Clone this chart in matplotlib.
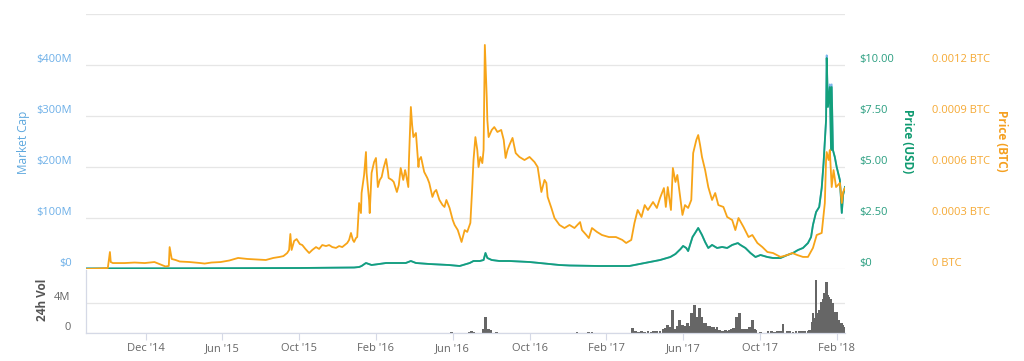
import numpy as np
import pandas as pd
import matplotlib
matplotlib.use('Agg')
import matplotlib.pyplot as plt
import matplotlib.dates as mdates

plt.rcParams['font.family'] = ['Open Sans', 'DejaVu Sans']

# ---------------- data ----------------
tick_dates = ['2014-12-01', '2015-06-01', '2015-10-01', '2016-02-01', '2016-06-01',
              '2016-10-01', '2017-02-01', '2017-06-01', '2017-10-01', '2018-02-01']
tick_labels = ["Dec '14", "Jun '15", "Oct '15", "Feb '16", "Jun '16",
               "Oct '16", "Feb '17", "Jun '17", "Oct '17", "Feb '18"]

btc_dates = [
    '2014-07-12', '2014-08-14', '2014-09-02', '2014-09-07', '2014-09-09', '2014-09-14', '2014-10-12',
    '2014-11-05', '2014-11-29', '2014-12-22', '2015-01-03', '2015-01-17', '2015-01-25', '2015-01-27',
    '2015-02-01', '2015-02-10', '2015-02-20', '2015-03-15', '2015-04-10', '2015-04-20', '2015-05-06',
    '2015-05-28', '2015-06-12', '2015-06-26', '2015-07-11', '2015-07-25', '2015-08-09', '2015-08-21',
    '2015-08-31', '2015-09-06', '2015-09-12', '2015-09-15', '2015-09-17', '2015-09-19', '2015-09-23',
    '2015-09-27', '2015-10-02', '2015-10-06', '2015-10-11', '2015-10-17', '2015-10-22', '2015-10-28',
    '2015-11-02', '2015-11-07', '2015-11-13', '2015-11-18', '2015-11-23', '2015-11-29', '2015-12-04',
    '2015-12-09', '2015-12-13', '2015-12-17', '2015-12-20', '2015-12-23', '2015-12-26', '2015-12-28',
    '2015-12-31', '2016-01-02', '2016-01-05', '2016-01-08', '2016-01-09', '2016-01-13', '2016-01-16',
    '2016-01-17', '2016-01-21', '2016-01-22', '2016-01-25', '2016-01-29', '2016-02-01', '2016-02-04',
    '2016-02-07', '2016-02-10', '2016-02-13', '2016-02-17', '2016-02-20', '2016-02-21', '2016-02-26',
    '2016-02-29', '2016-03-05', '2016-03-08', '2016-03-11', '2016-03-15', '2016-03-18', '2016-03-19',
    '2016-03-23', '2016-03-24', '2016-03-27', '2016-03-29', '2016-03-31', '2016-04-04', '2016-04-08',
    '2016-04-09', '2016-04-12', '2016-04-17', '2016-04-22', '2016-04-25', '2016-04-30', '2016-05-03',
    '2016-05-06', '2016-05-11', '2016-05-16', '2016-05-19', '2016-05-22', '2016-05-27', '2016-06-01',
    '2016-06-04', '2016-06-09', '2016-06-12', '2016-06-15', '2016-06-20', '2016-06-24', '2016-06-29',
    '2016-07-02', '2016-07-04', '2016-07-07', '2016-07-10', '2016-07-12', '2016-07-15', '2016-07-18',
    '2016-07-20', '2016-07-22', '2016-07-25', '2016-07-26', '2016-07-28', '2016-08-02', '2016-08-06',
    '2016-08-11', '2016-08-17', '2016-08-21', '2016-08-24', '2016-08-27', '2016-08-30', '2016-09-04',
    '2016-09-09', '2016-09-15', '2016-09-23', '2016-10-01', '2016-10-09', '2016-10-14', '2016-10-20',
    '2016-10-25', '2016-10-28', '2016-10-30', '2016-11-05', '2016-11-10', '2016-11-18', '2016-11-26',
    '2016-12-04', '2016-12-12', '2016-12-21', '2016-12-24', '2016-12-31', '2017-01-04', '2017-01-09',
    '2017-01-17', '2017-01-25', '2017-02-05', '2017-02-16', '2017-02-26', '2017-03-04', '2017-03-12',
    '2017-03-17', '2017-03-22', '2017-03-28', '2017-04-02', '2017-04-07', '2017-04-15', '2017-04-21',
    '2017-04-26', '2017-05-02', '2017-05-05', '2017-05-08', '2017-05-13', '2017-05-16', '2017-05-20',
    '2017-05-23', '2017-05-26', '2017-05-31', '2017-06-04', '2017-06-09', '2017-06-14', '2017-06-17',
    '2017-06-22', '2017-06-25', '2017-06-28', '2017-07-01', '2017-07-06', '2017-07-11', '2017-07-17',
    '2017-07-22', '2017-07-27', '2017-08-04', '2017-08-10', '2017-08-18', '2017-08-23', '2017-08-28',
    '2017-09-05', '2017-09-13', '2017-09-19', '2017-09-27', '2017-10-05', '2017-10-13', '2017-10-22',
    '2017-11-03', '2017-11-14', '2017-11-22', '2017-11-30', '2017-12-09', '2017-12-17', '2017-12-25',
    '2017-12-31', '2018-01-08', '2018-01-13', '2018-01-15', '2018-01-16', '2018-01-19', '2018-01-21',
    '2018-01-24', '2018-01-27', '2018-01-31', '2018-02-03', '2018-02-06', '2018-02-09', '2018-02-11',
    '2018-02-14']
btc_values = [
    0.000000, 0.000003, 0.000006, 0.000100, 0.000041, 0.000035, 0.000035,
    0.000038, 0.000035, 0.000041, 0.000029, 0.000015, 0.000018, 0.000129,
    0.000059, 0.000053, 0.000044, 0.000041, 0.000035, 0.000032, 0.000038,
    0.000041, 0.000050, 0.000065, 0.000059, 0.000056, 0.000053, 0.000065,
    0.000071, 0.000076, 0.000094, 0.000112, 0.000206, 0.000112, 0.000165,
    0.000176, 0.000147, 0.000141, 0.000118, 0.000094, 0.000112, 0.000129,
    0.000118, 0.000141, 0.000135, 0.000141, 0.000129, 0.000124, 0.000135,
    0.000129, 0.000141, 0.000153, 0.000171, 0.000212, 0.000171, 0.000159,
    0.000182, 0.000188, 0.000388, 0.000329, 0.000447, 0.000553, 0.000688,
    0.000565, 0.000406, 0.000329, 0.000565, 0.000629, 0.000653, 0.000482,
    0.000524, 0.000541, 0.000594, 0.000647, 0.000571, 0.000535, 0.000524,
    0.000512, 0.000453, 0.000494, 0.000594, 0.000524, 0.000582, 0.000565,
    0.000482, 0.000641, 0.000953, 0.000847, 0.000776, 0.000800, 0.000600,
    0.000641, 0.000659, 0.000571, 0.000535, 0.000506, 0.000424, 0.000453,
    0.000465, 0.000406, 0.000376, 0.000365, 0.000406, 0.000359, 0.000288,
    0.000259, 0.000229, 0.000194, 0.000159, 0.000229, 0.000218, 0.000271,
    0.000482, 0.000641, 0.000776, 0.000700, 0.000600, 0.000659, 0.000623,
    0.000700, 0.001318, 0.001012, 0.000876, 0.000776, 0.000818, 0.000835,
    0.000806, 0.000818, 0.000759, 0.000653, 0.000700, 0.000729, 0.000771,
    0.000682, 0.000659, 0.000641, 0.000659, 0.000629, 0.000600, 0.000453,
    0.000524, 0.000506, 0.000424, 0.000359, 0.000300, 0.000259, 0.000241,
    0.000259, 0.000241, 0.000276, 0.000229, 0.000200, 0.000182, 0.000241,
    0.000218, 0.000200, 0.000188, 0.000188, 0.000171, 0.000153, 0.000171,
    0.000271, 0.000347, 0.000306, 0.000376, 0.000347, 0.000394, 0.000359,
    0.000418, 0.000476, 0.000365, 0.000482, 0.000347, 0.000594, 0.000512,
    0.000553, 0.000465, 0.000318, 0.000376, 0.000359, 0.000406, 0.000682,
    0.000759, 0.000788, 0.000729, 0.000659, 0.000582, 0.000482, 0.000406,
    0.000447, 0.000376, 0.000365, 0.000306, 0.000288, 0.000229, 0.000300,
    0.000247, 0.000188, 0.000200, 0.000153, 0.000129, 0.000100, 0.000094,
    0.000071, 0.000082, 0.000094, 0.000082, 0.000071, 0.000071, 0.000124,
    0.000200, 0.000212, 0.000388, 0.000641, 0.000688, 0.000641, 0.000700,
    0.000482, 0.000582, 0.000482, 0.000494, 0.000506, 0.000388, 0.000453,
    0.000476]

usd_dates = [
    '2014-07-12', '2015-04-08', '2015-10-02', '2015-12-28', '2016-01-05', '2016-01-09', '2016-01-16',
    '2016-01-25', '2016-02-06', '2016-02-17', '2016-03-08', '2016-03-19', '2016-03-27', '2016-04-04',
    '2016-04-25', '2016-05-26', '2016-06-12', '2016-06-28', '2016-07-04', '2016-07-14', '2016-07-20',
    '2016-07-23', '2016-07-26', '2016-08-02', '2016-08-14', '2016-08-30', '2016-09-15', '2016-10-01',
    '2016-10-17', '2016-11-02', '2016-11-18', '2016-12-04', '2017-01-20', '2017-03-09', '2017-03-25',
    '2017-04-10', '2017-04-26', '2017-05-12', '2017-05-20', '2017-05-28', '2017-06-01', '2017-06-06',
    '2017-06-09', '2017-06-12', '2017-06-16', '2017-06-20', '2017-06-25', '2017-07-01', '2017-07-06',
    '2017-07-11', '2017-07-17', '2017-07-25', '2017-08-02', '2017-08-10', '2017-08-18', '2017-08-27',
    '2017-08-31', '2017-09-08', '2017-09-16', '2017-09-24', '2017-10-02', '2017-10-13', '2017-10-22',
    '2017-11-03', '2017-11-14', '2017-11-23', '2017-12-01', '2017-12-09', '2017-12-17', '2017-12-22',
    '2017-12-25', '2017-12-30', '2018-01-04', '2018-01-08', '2018-01-11', '2018-01-15', '2018-01-16',
    '2018-01-18', '2018-01-21', '2018-01-23', '2018-01-24', '2018-01-26', '2018-01-29', '2018-02-01',
    '2018-02-06', '2018-02-09', '2018-02-11', '2018-02-14']
usd_values = [
    0.025, 0.034, 0.049, 0.074, 0.098, 0.147, 0.294,
    0.196, 0.245, 0.294, 0.294, 0.294, 0.392, 0.294,
    0.245, 0.196, 0.147, 0.294, 0.392, 0.392, 0.441,
    0.784, 0.539, 0.441, 0.392, 0.392, 0.368, 0.343,
    0.294, 0.245, 0.196, 0.172, 0.147, 0.147, 0.245,
    0.343, 0.441, 0.588, 0.735, 0.980, 1.130, 1.030,
    0.880, 1.180, 1.570, 1.760, 2.010, 1.670, 1.320,
    1.030, 1.180, 1.030, 1.080, 1.030, 1.180, 1.270,
    1.180, 1.030, 0.784, 0.588, 0.686, 0.588, 0.539,
    0.539, 0.686, 0.784, 0.930, 1.030, 1.270, 1.570,
    2.160, 2.790, 3.040, 3.970, 5.200, 7.300, 10.340,
    7.940, 8.920, 5.830, 8.920, 5.830, 5.490, 5.000,
    4.360, 2.750, 3.630, 4.020]
mcap_values = [  # $ millions, same dates as usd_dates
    1.0, 1.4, 2.0, 2.9, 3.9, 5.9, 11.8,
    7.8, 9.8, 11.8, 11.8, 11.8, 15.7, 11.8,
    9.8, 7.8, 5.9, 11.8, 15.7, 15.7, 17.6,
    31.4, 21.6, 17.6, 15.7, 15.7, 14.7, 13.7,
    11.8, 9.8, 7.8, 6.9, 5.9, 5.9, 9.8,
    13.7, 17.6, 23.5, 29.4, 39.2, 45.1, 41.2,
    35.3, 47.1, 62.8, 70.6, 80.4, 66.7, 52.9,
    41.2, 47.1, 41.2, 43.1, 41.2, 47.1, 51.0,
    47.1, 41.2, 31.4, 23.5, 27.5, 23.5, 21.6,
    21.6, 27.5, 31.4, 37.3, 41.2, 51.0, 62.8,
    86.3, 111.8, 121.6, 158.8, 207.9, 292.2, 419.0,
    319.0, 362.0, 233.4, 362.0, 233.4, 219.6, 200.0,
    174.5, 109.8, 145.1, 160.8]

vol_dates = [
    '2016-05-30', '2016-06-28', '2016-07-01', '2016-07-04', '2016-07-20', '2016-07-21', '2016-07-23',
    '2016-07-25', '2016-07-28', '2016-07-31', '2016-08-10', '2016-12-16', '2017-01-04', '2017-01-09',
    '2017-03-14', '2017-03-19', '2017-03-23', '2017-03-28', '2017-04-02', '2017-04-07', '2017-04-12',
    '2017-04-16', '2017-04-21', '2017-04-26', '2017-05-01', '2017-05-05', '2017-05-08', '2017-05-12',
    '2017-05-16', '2017-05-20', '2017-05-23', '2017-05-26', '2017-05-29', '2017-06-01', '2017-06-04',
    '2017-06-08', '2017-06-11', '2017-06-14', '2017-06-17', '2017-06-19', '2017-06-22', '2017-06-24',
    '2017-06-27', '2017-06-30', '2017-07-03', '2017-07-06', '2017-07-09', '2017-07-13', '2017-07-16',
    '2017-07-19', '2017-07-22', '2017-07-25', '2017-07-29', '2017-08-01', '2017-08-04', '2017-08-07',
    '2017-08-10', '2017-08-13', '2017-08-17', '2017-08-20', '2017-08-23', '2017-08-25', '2017-08-27',
    '2017-08-30', '2017-09-02', '2017-09-05', '2017-09-08', '2017-09-11', '2017-09-14', '2017-09-17',
    '2017-09-19', '2017-09-22', '2017-09-25', '2017-10-02', '2017-10-14', '2017-10-19', '2017-10-24',
    '2017-10-29', '2017-11-03', '2017-11-07', '2017-11-14', '2017-11-18', '2017-11-23', '2017-11-28',
    '2017-12-03', '2017-12-07', '2017-12-12', '2017-12-17', '2017-12-20', '2017-12-24', '2017-12-25',
    '2017-12-28', '2017-12-30', '2018-01-02', '2018-01-05', '2018-01-08', '2018-01-10', '2018-01-11',
    '2018-01-13', '2018-01-15', '2018-01-16', '2018-01-18', '2018-01-19', '2018-01-21', '2018-01-23',
    '2018-01-24', '2018-01-26', '2018-01-27', '2018-01-29', '2018-01-31', '2018-02-01', '2018-02-03',
    '2018-02-04', '2018-02-06', '2018-02-07', '2018-02-09', '2018-02-11', '2018-02-12', '2018-02-14']
vol_values = [  # millions
    0.1, 0.2, 0.3, 0.2, 0.5, 0.6, 2.1,
    0.5, 0.5, 0.4, 0.1, 0.15, 0.1, 0.1,
    0.67, 0.3, 0.2, 0.3, 0.2, 0.3, 0.2,
    0.3, 0.27, 0.3, 0.5, 0.7, 1.07, 0.8,
    3.07, 0.5, 0.9, 1.73, 1.1, 1.07, 0.9,
    1.33, 1.0, 2.67, 1.6, 3.73, 1.6, 2.13,
    3.33, 2.13, 1.33, 1.3, 1.0, 0.9, 0.8,
    0.8, 0.6, 0.8, 0.4, 0.3, 0.27, 0.4,
    0.3, 0.4, 0.5, 0.67, 0.7, 2.13, 0.8,
    2.67, 0.6, 0.6, 0.5, 0.6, 0.8, 0.6,
    1.73, 0.5, 0.4, 0.13, 0.3, 0.3, 0.2,
    0.3, 0.3, 1.2, 0.3, 0.3, 0.2, 0.3,
    0.3, 0.25, 0.3, 0.3, 0.4, 1.5, 2.67,
    2.0, 7.07, 2.67, 3.07, 4.13, 3.73, 4.5,
    5.33, 6.67, 6.8, 5.1, 4.8, 4.4, 4.5,
    3.6, 4.0, 2.8, 2.13, 2.5, 2.8, 1.6,
    1.73, 1.4, 1.3, 1.33, 1.07, 0.8, 0.8]

mcap_ticks = [0, 100, 200, 300, 400, 500]
mcap_tick_labels = ['$0', '$100M', '$200M', '$300M', '$400M', '']
usd_ticks = [0, 2.5, 5, 7.5, 10]
usd_tick_labels = ['$0', '$2.50', '$5.00', '$7.50', '$10.00']
btc_ticks = [0, 0.0003, 0.0006, 0.0009, 0.0012]
btc_tick_labels = ['0 BTC', '0.0003 BTC', '0.0006 BTC', '0.0009 BTC', '0.0012 BTC']
vol_ticks = [0, 4]
vol_tick_labels = ['0', '4M']

# ---------------- ordinal time scale ----------------
anchor_dates = ['2014-06-01'] + tick_dates + ['2018-06-01']
anchor_nums = mdates.date2num(pd.to_datetime(anchor_dates))
anchor_idx = np.arange(-1, len(tick_dates) + 1)


def ordinal(dates):
    return np.interp(mdates.date2num(pd.to_datetime(dates)), anchor_nums, anchor_idx)


x_btc = ordinal(btc_dates)
x_usd = ordinal(usd_dates)
x_vol = ordinal(vol_dates)
x_ticks = ordinal(tick_dates)
xlim = (x_btc[0], x_btc[-1])

# ---------------- colours ----------------
C_MCAP = '#7cb5ec'
C_USD = '#13a07b'
C_BTC = '#f7a418'
C_GRID = '#e6e6e6'
C_AXIS = '#d5d9e6'

W, H = 1024, 361
fig = plt.figure(figsize=(W / 100, H / 100), dpi=100)

def px_rect(x0, y0, x1, y1):
    return [x0 / W, 1 - y1 / H, (x1 - x0) / W, (y1 - y0) / H]

ax = fig.add_axes(px_rect(86, 14, 845, 269))
axv = fig.add_axes(px_rect(86, 270, 845, 333))

# market cap
ax.plot(x_usd, mcap_values, color=C_MCAP, lw=1.3, zorder=2)
ax.set_ylim(0, 500)
ax.set_xlim(*xlim)
ax.set_yticks(mcap_ticks)
ax.set_yticklabels(mcap_tick_labels)
ax.grid(axis='y', color=C_GRID, lw=0.9)
ax.set_axisbelow(True)
ax.tick_params(axis='y', length=0, pad=10, labelsize=8, labelcolor='#6eb0e8')
ax.tick_params(axis='x', bottom=False, labelbottom=False)
for s in ax.spines.values():
    s.set_visible(False)

# price USD
ax2 = ax.twinx()
ax2.plot(x_usd, usd_values, color=C_USD, lw=1.3)
ax2.set_ylim(0, 12.5)
ax2.set_yticks(usd_ticks)
ax2.set_yticklabels(usd_tick_labels)
ax2.tick_params(axis='y', length=0, pad=10, labelsize=8, labelcolor='#2a9e80')
for s in ax2.spines.values():
    s.set_visible(False)

# price BTC
ax3 = ax.twinx()
ax3.plot(x_btc, btc_values, color=C_BTC, lw=1.3)
ax3.set_ylim(0, 0.0015)
ax3.set_yticks(btc_ticks)
ax3.set_yticklabels(btc_tick_labels)
ax3.tick_params(axis='y', length=0, pad=62.5, labelsize=8, labelcolor='#f5a934')
for s in ax3.spines.values():
    s.set_visible(False)
ax3.set_xlim(*xlim)

for a in (ax, ax2, ax3):
    for lab in a.get_yticklabels():
        lab.set_va('bottom')

# volume
axv.bar(x_vol, vol_values, width=0.036, color='#666666', linewidth=0, zorder=2)
axv.set_xlim(*xlim)
axv.set_ylim(0, 8.4)
axv.set_yticks(vol_ticks)
axv.set_yticklabels(vol_tick_labels)
axv.grid(axis='y', color=C_GRID, lw=0.9)
axv.set_axisbelow(True)
axv.tick_params(axis='y', length=0, pad=11, labelsize=8, labelcolor='#666666')
for lab in axv.get_yticklabels():
    lab.set_va('bottom')
axv.set_xticks(x_ticks)
axv.set_xticklabels(tick_labels)
axv.tick_params(axis='x', length=5, width=0.8, color=C_AXIS, pad=2,
                labelsize=8, labelcolor='#666666')
for k in ('top', 'right'):
    axv.spines[k].set_visible(False)
for k in ('left', 'bottom'):
    axv.spines[k].set_color(C_AXIS)
    axv.spines[k].set_linewidth(0.9)

# axis titles
fig.text(24 / W, 1 - 142 / H, 'Market Cap', rotation=90, ha='center', va='center',
         fontsize=8.5, color='#5ea8de')
fig.text(908 / W, 1 - 141 / H, 'Price (USD)', rotation=270, ha='center', va='center',
         fontsize=8.5, color='#0e9a70', fontweight='bold')
fig.text(1002 / W, 1 - 141 / H, 'Price (BTC)', rotation=270, ha='center', va='center',
         fontsize=8.5, color='#f5a020', fontweight='bold')
fig.text(42 / W, 1 - 300 / H, '24h Vol', rotation=90, ha='center', va='center',
         fontsize=8.5, color='#555555', fontweight='bold')

fig.savefig('out.png', dpi=100, facecolor='white')
